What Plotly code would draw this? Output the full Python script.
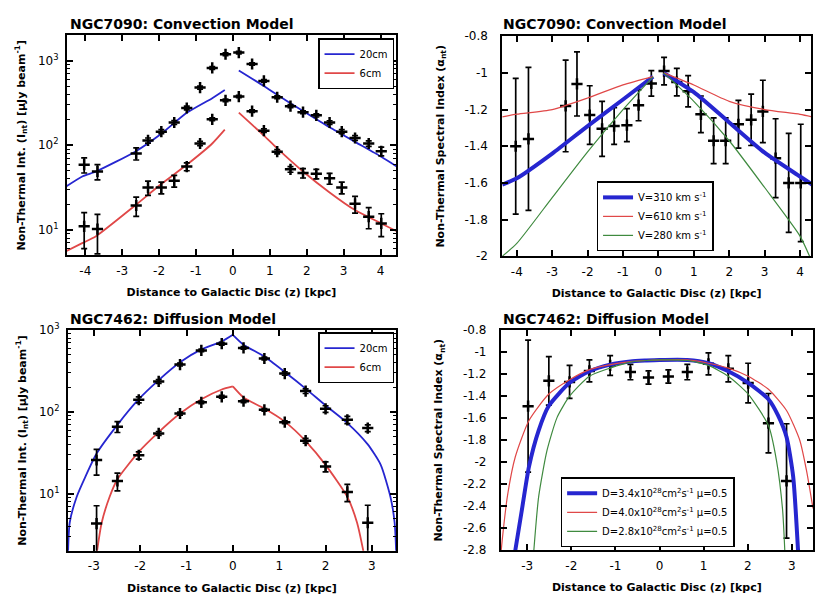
import plotly.graph_objects as go

# ---------------- data ----------------
# NGC7090 (top panels): positions along z [kpc]
z_7090 = [-4.03, -3.67, -2.62, -2.30, -1.94, -1.59, -1.25, -0.89, -0.56, -0.20, 0.16,
          0.52, 0.84, 1.20, 1.56, 1.90, 2.26, 2.62, 2.95, 3.31, 3.68, 4.02]
int20_7090 = [59, 49, 80, 114, 145, 186, 276, 482, 822, 1193, 1247,
              915, 577, 370, 290, 246, 226, 186, 145, 122, 105, 85]
err20_7090 = [12, 10, 13, 8, 8, 10, 14, 20, 30, 45, 45, 30, 20, 15, 12, 10, 10, 9, 8, 8, 8, 10]
int6_7090 = [11, 10.2, 19.4, 31.6, 31.6, 38, 56, 105, 203, 340, 377,
             253, 149, 84, 52, 47, 46, 40.6, 31.6, 20.3, 14.3, 11.9]
err6_7090 = [5, 5, 5, 6, 5, 6, 6, 6, 8, 12, 12, 9, 7, 5, 4, 6, 6, 6, 5, 4.5, 4, 3.6]

# convection model curves (intensity)
zm20L_7090 = [-4.52, -4.07, -3.71, -2.65, -1.95, -1.25, -0.56, -0.22]
m20L_7090 = [32.5, 43, 49, 84, 136, 242, 361, 451]
zm20R_7090 = [0.16, 0.84, 1.20, 1.90, 2.62, 3.32, 4.02, 4.44]
m20R_7090 = [767, 501, 395, 254, 163, 109, 73, 56]
zm6L_7090 = [-4.52, -4.07, -3.71, -2.65, -1.95, -1.25, -0.56, -0.22]
m6L_7090 = [5.6, 7.0, 8.4, 19.4, 34.6, 58.8, 105, 153]
zm6R_7090 = [0.16, 0.84, 1.20, 1.90, 2.62, 3.32, 4.02, 4.44]
m6R_7090 = [243, 130, 92, 49, 27.7, 17, 11.9, 9.6]

# spectral index NGC7090
alpha_7090 = [-1.40, -1.36, -1.18, -1.06, -1.23, -1.305, -1.29, -1.285, -1.176, -1.057, -0.99,
              -1.05, -1.10, -1.226, -1.37, -1.37, -1.28, -1.256, -1.21, -1.465, -1.60, -1.60]
alpha_err_7090 = [0.37, 0.39, 0.25, 0.175, 0.16, 0.15, 0.10, 0.09, 0.085, 0.07, 0.075,
                  0.075, 0.085, 0.10, 0.125, 0.125, 0.13, 0.14, 0.17, 0.215, 0.27, 0.32]
zaL_7090 = [-4.41, -4.0, -3.0, -2.0, -1.0, -0.15]
zaR_7090 = [0.15, 1.0, 2.0, 3.0, 4.0, 4.35]
a310L = [-1.61, -1.575, -1.44, -1.29, -1.145, -1.02]
a310R = [-1.0, -1.105, -1.27, -1.435, -1.565, -1.61]
a610L = [-1.24, -1.225, -1.20, -1.137, -1.065, -1.02]
a610R = [-1.0, -1.066, -1.155, -1.20, -1.226, -1.24]
a280L = [-2.0, -1.93, -1.68, -1.43, -1.20, -1.02]
zaR280_7090 = [0.15, 1.0, 2.0, 3.0, 4.0, 4.27]
a280R = [-1.0, -1.155, -1.37, -1.625, -1.89, -2.0]

# NGC7462 (bottom panels)
z_7462 = [-2.94, -2.49, -2.03, -1.60, -1.14, -0.68, -0.24, 0.23, 0.68, 1.12, 1.57, 2.00, 2.47, 2.91]
int20_7462 = [25.8, 66, 141, 236, 380, 566, 684, 608, 451, 295, 180, 109, 80, 63.5]
err20_7462 = [9, 10, 12, 12, 15, 20, 25, 22, 18, 14, 12, 10, 8, 6]
int6_7462 = [4.3, 14.3, 29.5, 54.6, 95.6, 131, 153, 135, 106, 75, 44.4, 21.5, 10.5, 4.4]
err6_7462 = [2.8, 3.5, 3, 3, 4, 5, 6, 5, 4, 3, 3, 3, 2.5, 2.8]

zm20L_7462 = [-3.56, -3.52, -3.37, -3.19, -2.94, -2.49, -2.03, -1.60, -1.14, -0.68, -0.24, 0.0]
m20L_7462 = [1.5, 4.4, 9.1, 15.7, 30.9, 69.5, 143, 245, 405, 582, 728, 880]
zm20R_7462 = [0.0, 0.23, 0.68, 1.12, 1.57, 2.00, 2.47, 2.91, 3.19, 3.40, 3.49, 3.53]
m20R_7462 = [880, 665, 476, 308, 193, 120, 73, 40, 22.5, 9.1, 4.4, 1.5]
zm6L_7462 = [-2.94, -2.83, -2.66, -2.49, -2.03, -1.60, -1.14, -0.68, -0.24, 0.0]
m6L_7462 = [1.8, 4.4, 9.1, 15, 32.4, 56.6, 95.6, 143, 188, 205]
zm6R_7462 = [0.0, 0.23, 0.68, 1.12, 1.57, 2.00, 2.47, 2.68, 2.83]
m6R_7462 = [205, 150, 110, 76, 44, 22.5, 9.1, 4.4, 1.8]

z_a7462 = [-2.98, -2.51, -2.04, -1.59, -1.12, -0.66, -0.25, 0.20, 0.63, 1.11, 1.56, 2.01, 2.47, 2.88]
alpha_7462 = [-1.49, -1.26, -1.27, -1.17, -1.12, -1.18, -1.23, -1.22, -1.18, -1.105, -1.15, -1.28, -1.645, -2.17]
alpha_err_7462 = [0.6, 0.22, 0.15, 0.1, 0.09, 0.07, 0.06, 0.06, 0.07, 0.1, 0.12, 0.18, 0.27, 0.52]

zD34 = [-3.27, -3.12, -2.96, -2.74, -2.51, -2.04, -1.59, -1.12, -0.66, -0.3, 0.0, 0.63, 1.11, 1.56, 2.01, 2.47, 2.69, 2.88, 3.03, 3.14]
aD34 = [-2.8, -2.43, -2.04, -1.71, -1.487, -1.278, -1.173, -1.113, -1.084, -1.075, -1.07, -1.07, -1.10, -1.173, -1.278, -1.427, -1.576, -1.77, -2.13, -2.8]
zD40 = [-3.6, -3.57, -3.45, -3.27, -2.96, -2.51, -2.04, -1.59, -1.12, -0.66, -0.3, 0.0, 0.63, 1.11, 1.56, 2.01, 2.47, 2.88, 3.18, 3.33, 3.48]
aD40 = [-2.85, -2.72, -2.31, -1.95, -1.62, -1.38, -1.25, -1.158, -1.113, -1.085, -1.075, -1.07, -1.07, -1.10, -1.144, -1.218, -1.337, -1.53, -1.80, -2.07, -2.42]
zD28 = [-2.85, -2.74, -2.55, -2.32, -2.04, -1.59, -1.12, -0.66, -0.3, 0.0, 0.63, 1.11, 1.56, 2.01, 2.47, 2.65, 2.79, 2.84]
aD28 = [-2.8, -2.31, -1.89, -1.59, -1.40, -1.218, -1.144, -1.09, -1.075, -1.07, -1.075, -1.12, -1.218, -1.38, -1.666, -1.98, -2.43, -2.8]

# tick labels / texts
xt_top = [-4, -3, -2, -1, 0, 1, 2, 3, 4]
xt_top_txt = ['-4', '-3', '-2', '-1', '0', '1', '2', '3', '4']
xt_bot = [-3, -2, -1, 0, 1, 2, 3]
xt_bot_txt = ['-3', '-2', '-1', '0', '1', '2', '3']
yt_log = [10, 100, 1000]
yt_log_txt = ['10<sup>1</sup>', '10<sup>2</sup>', '10<sup>3</sup>']
yt_log_minor = [2, 3, 4, 5, 6, 7, 8, 9, 20, 30, 40, 50, 60, 70, 80, 90,
                200, 300, 400, 500, 600, 700, 800, 900, 2000]
yt_a2 = [-2.0, -1.8, -1.6, -1.4, -1.2, -1.0, -0.8]
yt_a2_txt = ['-2', '-1.8', '-1.6', '-1.4', '-1.2', '-1', '-0.8']
yt_a4 = [-2.8, -2.6, -2.4, -2.2, -2.0, -1.8, -1.6, -1.4, -1.2, -1.0, -0.8]
yt_a4_txt = ['-2.8', '-2.6', '-2.4', '-2.2', '-2', '-1.8', '-1.6', '-1.4', '-1.2', '-1', '-0.8']

titles = ['NGC7090: Convection Model', 'NGC7090: Convection Model',
          'NGC7462: Diffusion Model', 'NGC7462: Diffusion Model']
xlabel = 'Distance to Galactic Disc (z) [kpc]'
ylabel_int = 'Non-Thermal Int. (I<sub>nt</sub>) [μJy beam<sup>-1</sup>]'
ylabel_alpha = 'Non-Thermal Spectral Index (α<sub>nt</sub>)'
names_freq = ['20cm', '6cm']
names_conv = ['V=310 km s<sup>-1</sup>', 'V=610 km s<sup>-1</sup>', 'V=280 km s<sup>-1</sup>']
names_diff = ['D=3.4x10<sup>28</sup>cm<sup>2</sup>s<sup>-1</sup> μ=0.5',
              'D=4.0x10<sup>28</sup>cm<sup>2</sup>s<sup>-1</sup> μ=0.5',
              'D=2.8x10<sup>28</sup>cm<sup>2</sup>s<sup>-1</sup> μ=0.5']

# ---------------- style ----------------
FONT = 'DejaVu Sans'
BLUE = '#2626d0'
RED = '#e04848'
GREEN = '#3f8a3f'

fig = go.Figure()


def data_trace(z, v, e, xa, ya):
    return go.Scatter(x=z, y=v, mode='markers', xaxis=xa, yaxis=ya, showlegend=False,
                      marker=dict(symbol='cross-thin', size=8, color='black',
                                  line=dict(width=2.5, color='black')),
                      error_y=dict(type='data', array=e, visible=True, color='black',
                                   thickness=1.7, width=3))


def model_trace(z, v, name, color, width, xa, ya, legend, show, smooth=False):
    return go.Scatter(x=z, y=v, mode='lines', name=name, xaxis=xa, yaxis=ya,
                      legend=legend, legendgroup=legend + name, showlegend=show,
                      line=dict(color=color, width=width,
                                shape='spline' if smooth else 'linear',
                                smoothing=0.6 if smooth else None))


# panel 1
fig.add_trace(model_trace(zm20L_7090, m20L_7090, names_freq[0], BLUE, 1.8, 'x', 'y', 'legend', True, True))
fig.add_trace(model_trace(zm20R_7090, m20R_7090, names_freq[0], BLUE, 1.8, 'x', 'y', 'legend', False, True))
fig.add_trace(model_trace(zm6L_7090, m6L_7090, names_freq[1], RED, 1.8, 'x', 'y', 'legend', True, True))
fig.add_trace(model_trace(zm6R_7090, m6R_7090, names_freq[1], RED, 1.8, 'x', 'y', 'legend', False, True))
fig.add_trace(data_trace(z_7090, int20_7090, err20_7090, 'x', 'y'))
fig.add_trace(data_trace(z_7090, int6_7090, err6_7090, 'x', 'y'))

# panel 2
fig.add_trace(data_trace(z_7090, alpha_7090, alpha_err_7090, 'x2', 'y2'))
fig.add_trace(model_trace(zaL_7090, a310L, names_conv[0], BLUE, 4, 'x2', 'y2', 'legend2', True, True))
fig.add_trace(model_trace(zaR_7090, a310R, names_conv[0], BLUE, 4, 'x2', 'y2', 'legend2', False, True))
fig.add_trace(model_trace(zaL_7090, a610L, names_conv[1], RED, 1.2, 'x2', 'y2', 'legend2', True, True))
fig.add_trace(model_trace(zaR_7090, a610R, names_conv[1], RED, 1.2, 'x2', 'y2', 'legend2', False, True))
fig.add_trace(model_trace(zaL_7090, a280L, names_conv[2], GREEN, 1.2, 'x2', 'y2', 'legend2', True, True))
fig.add_trace(model_trace(zaR280_7090, a280R, names_conv[2], GREEN, 1.2, 'x2', 'y2', 'legend2', False, True))

# panel 3
fig.add_trace(model_trace(zm20L_7462, m20L_7462, names_freq[0], BLUE, 1.8, 'x3', 'y3', 'legend3', True, True))
fig.add_trace(model_trace(zm20R_7462, m20R_7462, names_freq[0], BLUE, 1.8, 'x3', 'y3', 'legend3', False, True))
fig.add_trace(model_trace(zm6L_7462, m6L_7462, names_freq[1], RED, 1.8, 'x3', 'y3', 'legend3', True, True))
fig.add_trace(model_trace(zm6R_7462, m6R_7462, names_freq[1], RED, 1.8, 'x3', 'y3', 'legend3', False, True))
fig.add_trace(data_trace(z_7462, int20_7462, err20_7462, 'x3', 'y3'))
fig.add_trace(data_trace(z_7462, int6_7462, err6_7462, 'x3', 'y3'))

# panel 4
fig.add_trace(data_trace(z_a7462, alpha_7462, alpha_err_7462, 'x4', 'y4'))
fig.add_trace(model_trace(zD34, aD34, names_diff[0], BLUE, 4, 'x4', 'y4', 'legend4', True, True))
fig.add_trace(model_trace(zD40, aD40, names_diff[1], RED, 1.2, 'x4', 'y4', 'legend4', True, True))
fig.add_trace(model_trace(zD28, aD28, names_diff[2], GREEN, 1.2, 'x4', 'y4', 'legend4', True, True))

W, H = 815, 602
tickfont = dict(family=FONT, size=12, color='black')
titlefont = dict(family=FONT, size=11, color='black', weight='bold')


def xax(dom, rng, tv, tt, anchor):
    return dict(domain=dom, range=rng, anchor=anchor, tickvals=tv, ticktext=tt,
                showline=True, linecolor='black', linewidth=1.8, mirror='allticks',
                ticks='inside', ticklen=6, tickwidth=1.5, tickcolor='black',
                showgrid=False, zeroline=False, tickfont=tickfont, ticklabelstandoff=3,
                title=dict(text=xlabel, font=titlefont, standoff=12))


def yax(dom, rng, tv, tt, anchor, title, standoff, tlso, log=False):
    d = dict(domain=dom, range=rng, anchor=anchor, tickvals=tv, ticktext=tt,
             showline=True, linecolor='black', linewidth=1.8, mirror='allticks',
             ticks='inside', ticklen=6, tickwidth=1.5, tickcolor='black',
             showgrid=False, zeroline=False, tickfont=tickfont, ticklabelstandoff=tlso,
             title=dict(text=title, font=titlefont, standoff=standoff))
    if log:
        d['type'] = 'log'
        d['minor'] = dict(tickmode='array', tickvals=yt_log_minor, ticks='inside',
                          ticklen=3, tickwidth=1, tickcolor='black')
    return d


def legend_box(x, y, xanchor, yanchor):
    return dict(x=x, y=y, xanchor=xanchor, yanchor=yanchor, xref='paper', yref='paper',
                bgcolor='white', bordercolor='black', borderwidth=1.5,
                font=dict(family=FONT, size=10, color='black'), tracegroupgap=0,
                itemwidth=30)


fig.update_layout(
    width=W, height=H, margin=dict(l=0, r=0, t=0, b=0),
    paper_bgcolor='white', plot_bgcolor='white',
    font=dict(family=FONT, color='black'),
    xaxis=xax([67 / W, 397 / W], [-4.5, 4.42], xt_top, xt_top_txt, 'y'),
    yaxis=yax([1 - 253 / H, 1 - 27 / H], [0.699, 3.301], yt_log, yt_log_txt, 'x', ylabel_int, 10, 4, True),
    xaxis2=xax([503.5 / W, 813 / W], [-4.41, 4.31], xt_top, xt_top_txt, 'y2'),
    yaxis2=yax([1 - 254 / H, 1 - 28 / H], [-2.0, -0.8], yt_a2, yt_a2_txt, 'x2', ylabel_alpha, 18, 10),
    xaxis3=xax([68 / W, 397 / W], [-3.56, 3.52], xt_bot, xt_bot_txt, 'y3'),
    yaxis3=yax([1 - 556.5 / H, 1 - 330 / H], [0.301, 3.0], yt_log, yt_log_txt, 'x3', ylabel_int, 10, 4, True),
    xaxis4=xax([502 / W, 1.0], [-3.6, 3.48], xt_bot, xt_bot_txt, 'y4'),
    yaxis4=yax([1 - 556 / H, 1 - 330 / H], [-2.8, -0.8], yt_a4, yt_a4_txt, 'x4', ylabel_alpha, 18, 10),
    legend=legend_box(395 / W, 1 - 30 / H, 'right', 'top'),
    legend2=legend_box(598 / W, 1 - 249 / H, 'left', 'bottom'),
    legend3=legend_box(395 / W, 1 - 332 / H, 'right', 'top'),
    legend4=legend_box(562 / W, 1 - 553 / H, 'left', 'bottom'),
)

title_pos = [(68, 15), (502, 15), (68, 318), (502, 318)]
for t, (px, py) in zip(titles, title_pos):
    fig.add_annotation(text=t, x=px / W, y=1 - py / H, xref='paper', yref='paper',
                       xanchor='left', yanchor='middle', showarrow=False,
                       font=dict(family=FONT, size=14, color='black', weight='bold'))

fig.write_html('out.html', config={'displayModeBar': False},
               post_script="document.body.style.margin='0';document.body.style.overflow='hidden';")
